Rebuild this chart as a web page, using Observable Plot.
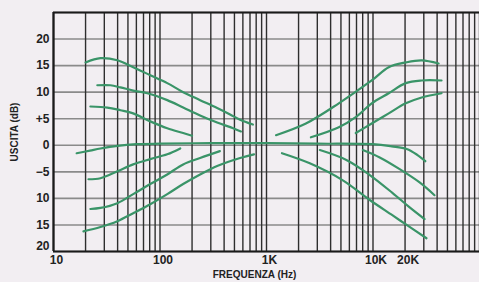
<!DOCTYPE html>
<html>
<head>
<meta charset="utf-8">
<script src="https://cdn.jsdelivr.net/npm/d3@7"></script>
<script src="https://cdn.jsdelivr.net/npm/@observablehq/plot@0.6"></script>
<style>
  html, body { margin: 0; padding: 0; background: #f2eef2; overflow: hidden; }
  #chart svg { display: block; }
</style>
</head>
<body>
<div id="chart"></div>
<script>
// ---- tick labels / grid ----
const xTickValues = [10, 100, 1000, 10000, 20000];
const xTickLabels = ["10", "100", "1K", "10K", "20K"];
const yTickValues = [20, 15, 10, 5, 0, -5, -10, -15, -20];
const yTickLabels = ["20", "15", "10", "+5", "0", "−5", "10", "15", "20"];
const xGrid = [10,20,30,40,50,60,70,80,90,
               100,200,300,400,500,600,700,800,900,
               1000,2000,3000,4000,5000,6000,7000,8000,9000,
               10000,20000,30000,40000,50000,60000,70000,80000,90000,100000];
const yGrid = [25, 20, 15, 10, 5, 0, -5, -10, -15, -20];

// ---- curves (frequency in Hz, output in dB) ----
const flatF  = [16.5, 22, 27.6, 40, 60, 100, 300, 1000, 3000, 10000, 15000, 20700, 26000, 31000];
const flatDB = [-1.5, -1.0, -0.6, -0.1, 0.2, 0.3, 0.4, 0.4, 0.3, 0.2, -0.2, -0.7, -1.8, -3.0];

const bassBoostHighF  = [20, 27.6, 39.8, 56, 81, 117, 165, 238, 344, 455, 565, 745];
const bassBoostHighDB = [15.6, 16.4, 16.0, 14.7, 13.2, 11.7, 10.0, 8.5, 7.0, 5.8, 4.8, 3.9];
const bassBoostMidF   = [25.8, 34.2, 42.5, 56, 76, 117, 165, 238, 344, 486, 575];
const bassBoostMidDB  = [11.3, 11.3, 10.9, 10.3, 9.8, 8.5, 7.1, 5.6, 4.3, 3.2, 2.6];
const bassBoostLowF   = [22.2, 32, 42.5, 56, 81, 117, 165, 200];
const bassBoostLowDB  = [7.3, 7.1, 6.6, 6.0, 4.5, 3.2, 2.3, 1.8];

const bassCutLowF   = [21.3, 27.6, 39.8, 56, 81, 117, 155];
const bassCutLowDB  = [-6.4, -6.2, -4.9, -3.6, -2.6, -1.7, -0.6];
const bassCutMidF   = [22.2, 27.6, 39.8, 56, 81, 117, 165, 238, 365];
const bassCutMidDB  = [-12.0, -11.8, -10.9, -9.2, -7.3, -5.5, -3.6, -2.4, -1.1];
const bassCutHighF  = [19.1, 27.6, 39.8, 56, 81, 117, 165, 238, 344, 565, 764];
const bassCutHighDB = [-16.2, -15.4, -14.3, -12.8, -11.1, -9.2, -7.3, -5.5, -3.9, -2.4, -1.7];

const trebleBoostHighF  = [1228, 2344, 4775, 9725, 14050, 20300, 28650, 41300];
const trebleBoostHighDB = [1.9, 4.1, 7.9, 12.2, 14.7, 15.6, 16.0, 15.4];
const trebleBoostMidF   = [2612, 4775, 6890, 9725, 14050, 20300, 28650, 44000];
const trebleBoostMidDB  = [1.5, 3.4, 5.3, 7.9, 9.8, 11.7, 12.2, 12.2];
const trebleBoostLowF   = [6890, 9725, 14050, 20300, 28650, 44000];
const trebleBoostLowDB  = [2.3, 4.1, 6.0, 7.9, 9.0, 9.8];

const trebleCutHighF  = [1397, 2550, 5210, 9330, 15300, 20700, 31800];
const trebleCutHighDB = [-1.5, -3.4, -6.6, -10.3, -13.2, -15.0, -17.5];
const trebleCutMidF   = [3170, 5680, 9330, 15300, 22100, 30500];
const trebleCutMidDB  = [-0.9, -2.8, -5.6, -9.0, -11.7, -13.9];
const trebleCutLowF   = [8020, 11560, 17800, 27400, 37800];
const trebleCutLowDB  = [-0.9, -2.3, -4.5, -7.0, -9.4];

const series = [
  ["flat", flatF, flatDB],
  ["bassBoostHigh", bassBoostHighF, bassBoostHighDB],
  ["bassBoostMid", bassBoostMidF, bassBoostMidDB],
  ["bassBoostLow", bassBoostLowF, bassBoostLowDB],
  ["bassCutLow", bassCutLowF, bassCutLowDB],
  ["bassCutMid", bassCutMidF, bassCutMidDB],
  ["bassCutHigh", bassCutHighF, bassCutHighDB],
  ["trebleBoostHigh", trebleBoostHighF, trebleBoostHighDB],
  ["trebleBoostMid", trebleBoostMidF, trebleBoostMidDB],
  ["trebleBoostLow", trebleBoostLowF, trebleBoostLowDB],
  ["trebleCutHigh", trebleCutHighF, trebleCutHighDB],
  ["trebleCutMid", trebleCutMidF, trebleCutMidDB],
  ["trebleCutLow", trebleCutLowF, trebleCutLowDB]
];
const rows = series.flatMap(([name, fs, dbs]) => fs.map((f, i) => ({name, f, db: dbs[i]})));

const xLabelRows = xTickValues.map((v, i) => ({v, label: xTickLabels[i]}));
const yLabelRows = yTickValues.map((v, i) => ({v, label: yTickLabels[i]}));
const font = "'Liberation Sans', Arial, sans-serif";

const chart = Plot.plot({
  width: 479,
  height: 282,
  marginLeft: 53,
  marginRight: 0,
  marginTop: 12,
  marginBottom: 31,
  style: {background: "#f2eef2", fontFamily: font, color: "#222"},
  x: {type: "log", domain: [10, 100000], axis: null},
  y: {domain: [-20, 25], axis: null},
  marks: [
    Plot.ruleY(yGrid, {stroke: "#8a8a8a", strokeWidth: 1.6}),
    Plot.ruleX(xGrid, {stroke: "#2e2e2e", strokeWidth: 1.4}),
    Plot.ruleY([25], {stroke: "#1a1a1a", strokeWidth: 2.2}),
    Plot.ruleY([-20], {stroke: "#1a1a1a", strokeWidth: 2.2}),
    Plot.ruleX([10], {stroke: "#1a1a1a", strokeWidth: 2.2}),
    Plot.line(rows, {x: "f", y: "db", z: "name", stroke: "#3a9468", strokeWidth: 2.2,
                     curve: "catmull-rom", strokeLinecap: "round"}),
    Plot.text(yLabelRows.filter(d => d.v > -20), {
      y: "v", text: "label", frameAnchor: "left", dx: -4, textAnchor: "end",
      fontSize: 12, fontWeight: "bold", fill: "#222"
    }),
    Plot.text(yLabelRows.filter(d => d.v === -20), {
      y: "v", text: "label", frameAnchor: "left", dx: -4, dy: -5, textAnchor: "end",
      fontSize: 12, fontWeight: "bold", fill: "#222"
    }),
    Plot.text(xLabelRows, {
      x: "v", text: "label", frameAnchor: "bottom", dy: 12, dx: 3,
      fontSize: 12, fontWeight: "bold", fill: "#222"
    }),
    Plot.text(["FREQUENZA (Hz)"], {
      frameAnchor: "bottom", dy: 26, dx: -12, fontSize: 10, fontWeight: "bold",
      text: d => d, textAnchor: "middle", fill: "#222"
    }),
    Plot.text(["USCITA (dB)"], {
      frameAnchor: "left", dx: -39, rotate: -90, fontSize: 10, fontWeight: "bold",
      text: d => d, textAnchor: "middle", fill: "#222"
    })
  ]
});
document.getElementById("chart").appendChild(chart);
</script>
</body>
</html>
